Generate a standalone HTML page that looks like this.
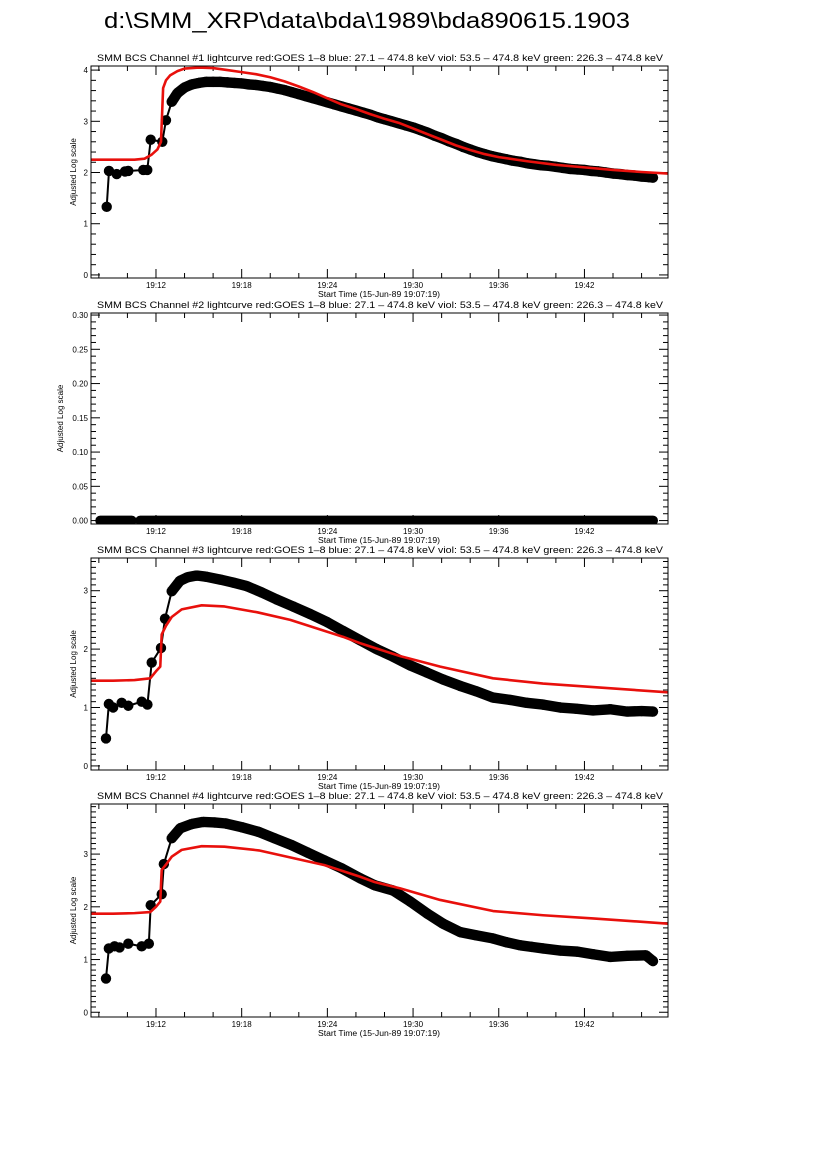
<!DOCTYPE html>
<html><head><meta charset="utf-8"><style>
html,body{margin:0;padding:0;background:#fff;}
svg{display:block;font-family:"Liberation Sans",sans-serif;}
</style></head>
<body>
<svg id="fig" width="826" height="1169" viewBox="0 0 826 1169">
<text x="367" y="28" font-size="22" text-anchor="middle" textLength="526" lengthAdjust="spacingAndGlyphs">d:\SMM_XRP\data\bda\1989\bda890615.1903</text>
</svg>
<script>
// ---- data (time in minutes after 19:00) ----
const xTickLabels = ["19:12","19:18","19:24","19:30","19:36","19:42"];
const xTickMinutes = [12,18,24,30,36,42];

const ch1BlackT = [8.55,8.71,9.25,9.83,10.06,11.11,11.39,11.63,12.44,12.70,13.1,13.5,14,14.5,15,15.5,16,16.5,17,17.5,18,18.5,19,19.5,20,20.5,21,21.5,22,22.5,23,23.5,24,24.5,25,25.5,26,26.5,27,27.5,28,28.5,29,29.5,30,30.5,31,31.5,32,32.5,33,33.5,34,34.5,35,35.5,36,36.5,37,37.5,38,38.5,39,39.5,40,40.5,41,41.5,42,42.5,43,43.5,44,44.5,45,45.5,46,46.5,46.8];
const ch1BlackV = [1.33,2.03,1.97,2.02,2.03,2.05,2.05,2.64,2.6,3.02,3.38,3.55,3.66,3.72,3.75,3.77,3.77,3.77,3.76,3.75,3.74,3.72,3.71,3.69,3.67,3.64,3.61,3.57,3.53,3.49,3.45,3.41,3.37,3.33,3.29,3.25,3.21,3.17,3.13,3.08,3.04,3.0,2.96,2.92,2.88,2.83,2.78,2.72,2.67,2.61,2.56,2.5,2.45,2.4,2.36,2.32,2.29,2.26,2.23,2.21,2.18,2.16,2.14,2.13,2.11,2.09,2.07,2.06,2.05,2.03,2.02,2.0,1.98,1.97,1.95,1.94,1.92,1.91,1.9];
const ch1RedT = [7.45,9,10.5,11.2,11.7,12.1,12.35,12.45,12.5,12.7,13,13.5,14,15,16,17,18,19,20,21,22,23,24,25,26,27,28,29,30,31,32,33,34,35,36,38,40,42,44,46,47.85];
const ch1RedV = [2.25,2.25,2.25,2.27,2.35,2.45,2.6,3.3,3.65,3.8,3.9,3.98,4.03,4.05,4.04,4.0,3.96,3.92,3.86,3.78,3.68,3.57,3.45,3.33,3.24,3.14,3.05,2.97,2.86,2.75,2.64,2.53,2.44,2.36,2.3,2.22,2.15,2.1,2.05,2.01,1.98];

const ch2BlackT = [8.1,8.5,9,9.5,10,10.3,10.9,11.3,11.8,12.3,13,14,15,16,17,18,19,20,21,22,23,24,25,26,27,28,29,30,31,32,33,34,35,36,37,38,39,40,41,42,43,44,45,46,46.8];
const ch2BlackV = [0,0,0,0,0,0,0,0,0,0,0,0,0,0,0,0,0,0,0,0,0,0,0,0,0,0,0,0,0,0,0,0,0,0,0,0,0,0,0,0,0,0,0,0,0];
const ch2Gap = [10.3,10.9];

const ch3BlackT = [8.5,8.7,9.0,9.6,10.06,11.0,11.4,11.7,12.35,12.63,13.1,13.68,14.2,14.85,15.5,16.5,17.4,18.35,19.4,20.45,21.6,22.8,24,25.1,26.3,27.45,28.6,29.8,30.96,32.1,33.3,34.4,35.6,36.8,37.96,39.1,40.3,41.4,42.6,43.8,45,46,46.8];
const ch3BlackV = [0.47,1.06,1.0,1.08,1.03,1.1,1.05,1.77,2.02,2.52,2.99,3.17,3.23,3.26,3.24,3.19,3.14,3.08,2.97,2.85,2.73,2.6,2.46,2.31,2.15,2.0,1.87,1.72,1.6,1.48,1.37,1.28,1.17,1.13,1.08,1.05,1.0,0.98,0.95,0.97,0.93,0.94,0.93];
const ch3RedT = [7.45,9,10.5,11.6,12.0,12.3,12.4,12.7,13.1,13.8,15.2,16.8,19.1,21.4,25.1,26.3,29.1,31.9,35.6,39.1,42.6,47.85];
const ch3RedV = [1.46,1.46,1.47,1.5,1.62,1.7,2.25,2.4,2.55,2.68,2.75,2.73,2.63,2.5,2.21,2.1,1.88,1.7,1.5,1.41,1.35,1.26];

const ch4BlackT = [8.5,8.7,9.1,9.45,10.06,11.0,11.5,11.63,12.4,12.55,13.1,13.7,14.5,15.3,16.1,16.9,18,19.2,20.3,21.5,22.6,23.8,25,26.3,27.3,28.6,29.8,31,32.1,33.3,34.4,35.6,36.5,37.5,38.3,39.1,40.3,41.5,42.6,43.8,45,46.3,46.8];
const ch4BlackV = [0.64,1.21,1.25,1.23,1.3,1.25,1.3,2.03,2.24,2.81,3.3,3.49,3.57,3.61,3.6,3.58,3.51,3.42,3.3,3.17,3.03,2.88,2.73,2.54,2.41,2.31,2.1,1.87,1.68,1.52,1.46,1.4,1.33,1.27,1.24,1.21,1.17,1.15,1.1,1.05,1.07,1.08,0.97];
const ch4RedT = [7.45,9,10.5,11.6,12.0,12.3,12.4,12.7,13.1,13.8,15.2,16.8,19.2,23.8,26.3,27.3,29.1,31.9,35.6,39.1,42.6,47.85];
const ch4RedV = [1.87,1.87,1.88,1.9,2.0,2.1,2.7,2.8,2.95,3.08,3.15,3.14,3.07,2.79,2.57,2.47,2.35,2.13,1.92,1.84,1.78,1.68];

const yTicks1 = [0,1,2,3,4];
const yTicks2 = [0,0.05,0.10,0.15,0.20,0.25,0.30];
const yTicks3 = [0,1,2,3];
const yTicks4 = [0,1,2,3];

// ---- layout ----
const NS = "http://www.w3.org/2000/svg";
const svg = document.getElementById("fig");
const X0 = 91, X1 = 668, TMIN = 7.45, TMAX = 47.85;
const xs = t => X0 + (t - TMIN) / (TMAX - TMIN) * (X1 - X0);
const panels = [
  {n:1, top:66, bot:278, ymin:-0.06, ymax:4.08, ticks:yTicks1, minor:0.2, fmt:v=>v.toFixed(0), ylx:76, bt:ch1BlackT, bv:ch1BlackV, rt:ch1RedT, rv:ch1RedV},
  {n:2, top:313, bot:524, ymin:-0.005, ymax:0.303, ticks:yTicks2, minor:0.01, fmt:v=>v.toFixed(2), ylx:63, bt:ch2BlackT, bv:ch2BlackV, rt:null, rv:null},
  {n:3, top:558, bot:770, ymin:-0.07, ymax:3.56, ticks:yTicks3, minor:0.1, fmt:v=>v.toFixed(0), ylx:76, bt:ch3BlackT, bv:ch3BlackV, rt:ch3RedT, rv:ch3RedV},
  {n:4, top:804, bot:1017, ymin:-0.09, ymax:3.95, ticks:yTicks4, minor:0.1, fmt:v=>v.toFixed(0), ylx:76, bt:ch4BlackT, bv:ch4BlackV, rt:ch4RedT, rv:ch4RedV}
];
function mk(tag, attrs, parent){
  const e = document.createElementNS(NS, tag);
  for (const k in attrs) e.setAttribute(k, attrs[k]);
  (parent||svg).appendChild(e);
  return e;
}
panels.forEach(p => {
  const ys = v => p.bot - (v - p.ymin) / (p.ymax - p.ymin) * (p.bot - p.top);
  const g = mk("g", {});
  
  
  const clipId = "clip" + p.n;
  const cp = mk("clipPath", {id: clipId}, g);
  mk("rect", {x: X0, y: p.top, width: X1 - X0, height: p.bot - p.top}, cp);

  const title = mk("text", {x: 380, y: p.top - 5, "font-size": 9, "text-anchor": "middle", textLength: 566, lengthAdjust: "spacingAndGlyphs"}, g);
  title.textContent = "SMM BCS Channel #" + p.n + " lightcurve  red:GOES 1\u20138  blue: 27.1 \u2013 474.8 keV  viol: 53.5 \u2013 474.8 keV  green: 226.3 \u2013 474.8 keV";
  
  

  for (let t = 8; t <= 47; t += 2) {
    const x = xs(t), major = xTickMinutes.includes(t), L = major ? 9 : 5;
    mk("line", {x1: x, x2: x, y1: p.bot, y2: p.bot - L, stroke: "#000", "stroke-width": 1}, g);
    mk("line", {x1: x, x2: x, y1: p.top, y2: p.top + L, stroke: "#000", "stroke-width": 1}, g);
  }
  xTickLabels.forEach((lab, i) => {
    const tx = mk("text", {x: xs(xTickMinutes[i]), y: p.bot + 10, "font-size": 8, "text-anchor": "middle"}, g);
    tx.textContent = lab;
    
    
  });
  const xl = mk("text", {x: 379, y: p.bot + 19, "font-size": 8, "text-anchor": "middle", textLength: 122, lengthAdjust: "spacingAndGlyphs"}, g);
  xl.textContent = "Start Time (15-Jun-89 19:07:19)";
  
  

  const nMinor = Math.round((p.ymax - 0) / p.minor);
  for (let i = 0; i <= nMinor; i++) {
    const v = i * p.minor;
    if (v > p.ymax) break;
    const y = ys(v);
    const major = p.ticks.some(t => Math.abs(t - v) < 1e-6), L = major ? 9 : 5;
    mk("line", {x1: X0, x2: X0 + L, y1: y, y2: y, stroke: "#000", "stroke-width": 1}, g);
    mk("line", {x1: X1, x2: X1 - L, y1: y, y2: y, stroke: "#000", "stroke-width": 1}, g);
  }
  p.ticks.forEach(v => {
    const ty = mk("text", {x: X0 - 3, y: ys(v) + 3, "font-size": 8, "text-anchor": "end"}, g);
    ty.textContent = p.fmt(v);
    
    
  });
  const yc = (p.top + p.bot) / 2;
  const yl = mk("text", {x: 0, y: 0, "font-size": 8, "text-anchor": "middle", transform: "translate(" + p.ylx + "," + yc + ") rotate(-90)"}, g);
  yl.textContent = "Adjusted Log scale";
  
  

  const dg = mk("g", {"clip-path": "url(#" + clipId + ")"}, g);
  
  
  if (p.n === 2) {
    const segs = [p.bt.map((t, i) => [t, p.bv[i]]).filter(d => d[0] <= ch2Gap[0]),
                  p.bt.map((t, i) => [t, p.bv[i]]).filter(d => d[0] >= ch2Gap[1])];
    segs.forEach(s => {
      const pl = mk("polyline", {points: s.map(d => xs(d[0]) + "," + ys(d[1])).join(" "), fill: "none", stroke: "#000", "stroke-width": 10, "stroke-linecap": "round"}, dg);
      
      
    });
  } else {
    const pl = mk("polyline", {points: p.bt.map((t, i) => xs(t) + "," + ys(p.bv[i])).join(" "), fill: "none", stroke: "#000", "stroke-width": 2}, dg);
    
    
    p.bt.forEach((t, i) => {
      const c = mk("circle", {cx: xs(t), cy: ys(p.bv[i]), r: 5.2, fill: "#000"}, dg);
      
      
    });
    for (let i = 10; i < p.bt.length - 1; i++) {
      const q = mk("line", {x1: xs(p.bt[i]), y1: ys(p.bv[i]), x2: xs(p.bt[i+1]), y2: ys(p.bv[i+1]), stroke: "#000", "stroke-width": 10.4}, dg);
      
      
    }
  }
  if (p.rt) {
    const rl = mk("polyline", {points: p.rt.map((t, i) => xs(t) + "," + ys(p.rv[i])).join(" "), fill: "none", stroke: "#e8100c", "stroke-width": 2.6, "stroke-linejoin": "round", "clip-path": "url(#" + clipId + ")"}, g);
    
    
  }
  const fr = mk("rect", {x: X0, y: p.top, width: X1 - X0, height: p.bot - p.top, fill: "none", stroke: "#000", "stroke-width": 1}, g);
  
  
});
</script>
</body></html>
